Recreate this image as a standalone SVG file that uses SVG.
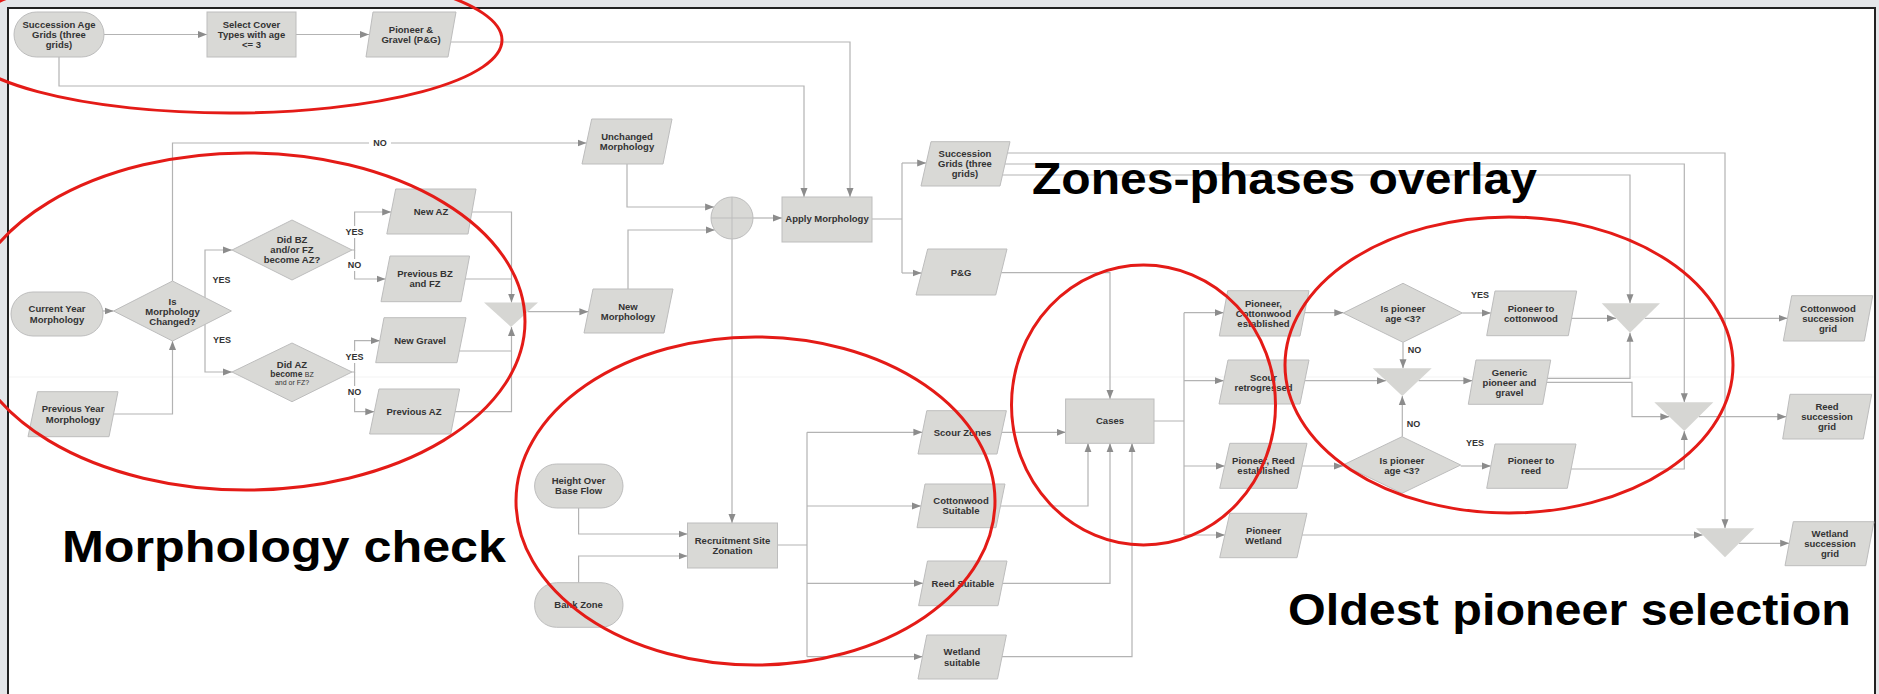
<svg xmlns="http://www.w3.org/2000/svg" width="1879" height="694" viewBox="0 0 1879 694">
<style>
.n{fill:#d9d9d6;stroke:#bdbdbd;stroke-width:1}
.m{fill:#d6d6d3;stroke:none}
.t{font-family:"Liberation Sans",Arial,sans-serif;font-weight:bold;font-size:9.5px;fill:#333;text-anchor:middle}
.s{font-family:"Liberation Sans",Arial,sans-serif;font-weight:normal;font-size:7.5px;fill:#333;text-anchor:middle}
.c{fill:none;stroke:#b3b3b3;stroke-width:1.2}
.l{font-family:"Liberation Sans",Arial,sans-serif;font-weight:bold;font-size:9px;fill:#333;text-anchor:middle}
.bg{fill:#fff}
.big{font-family:"Liberation Sans",Arial,sans-serif;font-weight:bold;font-size:45px;fill:#000}
.red{fill:none;stroke:#e41b17;stroke-width:3}
</style>
<defs>
<marker id="ah" markerUnits="userSpaceOnUse" markerWidth="10" markerHeight="8" refX="9" refY="4" orient="auto"><path d="M0,0.5 L9,4 L0,7.5 z" fill="#8c8c8c"/></marker>
</defs>
<rect x="0" y="0" width="1879" height="694" fill="#e4e6e9"/>
<rect x="8" y="8" width="1867" height="700" fill="#fff" stroke="#222" stroke-width="2"/>
<line x1="9" y1="377" x2="1874" y2="377" stroke="#f3f3f3" stroke-width="1"/>

<g id="connectors">
<path class="c" marker-end="url(#ah)" d="M104,34.5 H207"/>
<path class="c" marker-end="url(#ah)" d="M296,34.5 H369"/>
<path class="c" marker-end="url(#ah)" d="M59,57 V86 H804 V197"/>
<path class="c" marker-end="url(#ah)" d="M451,42 H850 V197"/>
<path class="c" marker-end="url(#ah)" d="M103,311 H113.5"/>
<path class="c" marker-end="url(#ah)" d="M172.5,281 V143 H586.5"/>
<path class="c" marker-end="url(#ah)" d="M205,297.7 V250 H232"/>
<path class="c" marker-end="url(#ah)" d="M205,324.3 V372 H232"/>
<path class="c" marker-end="url(#ah)" d="M113.5,414 H172.5 V341"/>
<path class="c" marker-end="url(#ah)" d="M352,250 H354.6 V212 H391.2"/>
<path class="c" marker-end="url(#ah)" d="M354.6,250 V279 H385.5"/>
<path class="c" marker-end="url(#ah)" d="M352,372 H354.6 V340.7 H379.8"/>
<path class="c" marker-end="url(#ah)" d="M354.6,372 V411.7 H374.3"/>
<path class="c" marker-end="url(#ah)" d="M471.9,212 H511.5 V302.5"/>
<path class="c" d="M465.3,279 H511.5"/>
<path class="c" marker-end="url(#ah)" d="M459.3,351 H511.5 V327"/>
<path class="c" d="M455,411.7 H511.5 V351"/>
<path class="c" marker-end="url(#ah)" d="M528,311.7 H588.4"/>
<path class="c" marker-end="url(#ah)" d="M628,289 V230 H714.8"/>
<path class="c" marker-end="url(#ah)" d="M627,164 V207 H714.1"/>
<path class="c" marker-end="url(#ah)" d="M753,218 H782"/>
<path class="c" marker-end="url(#ah)" d="M732,239 V523"/>
<path class="c" d="M872,219 H902 M902,163 V273"/>
<path class="c" marker-end="url(#ah)" d="M902,163 H926.2"/>
<path class="c" marker-end="url(#ah)" d="M902,273 H921.6"/>
<path class="c" marker-end="url(#ah)" d="M1007.4,153 H1725 V528.3"/>
<path class="c" marker-end="url(#ah)" d="M1005,164 H1684.3 V402.3"/>
<path class="c" marker-end="url(#ah)" d="M1002.5,175 H1630 V303.3"/>
<path class="c" marker-end="url(#ah)" d="M1001.2,272.7 H1110 V399"/>
<path class="c" marker-end="url(#ah)" d="M578.6,508 V534 H687.5"/>
<path class="c" marker-end="url(#ah)" d="M578.6,582.7 V556 H687.5"/>
<path class="c" d="M777.5,545 H807 M807,432.3 V656.7"/>
<path class="c" marker-end="url(#ah)" d="M807,432.3 H922.4"/>
<path class="c" marker-end="url(#ah)" d="M807,506 H921"/>
<path class="c" marker-end="url(#ah)" d="M807,583.3 H923"/>
<path class="c" marker-end="url(#ah)" d="M807,656.7 H922.5"/>
<path class="c" marker-end="url(#ah)" d="M1001.7,432.3 H1065.6"/>
<path class="c" marker-end="url(#ah)" d="M1000.5,506 H1088 V443.3"/>
<path class="c" marker-end="url(#ah)" d="M1002.5,583.3 H1110 V443.3"/>
<path class="c" marker-end="url(#ah)" d="M1001.8,656.7 H1132 V443.3"/>
<path class="c" d="M1154,421 H1184 M1184,312.7 V535"/>
<path class="c" marker-end="url(#ah)" d="M1184,312.7 H1223.6"/>
<path class="c" marker-end="url(#ah)" d="M1184,380.7 H1223.8"/>
<path class="c" marker-end="url(#ah)" d="M1184,466 H1224.7"/>
<path class="c" marker-end="url(#ah)" d="M1184,535 H1224.9"/>
<path class="c" marker-end="url(#ah)" d="M1304.6,312.7 H1343.3"/>
<path class="c" marker-end="url(#ah)" d="M1462.3,313 H1490.9"/>
<path class="c" marker-end="url(#ah)" d="M1403,342.3 V368.3"/>
<path class="c" marker-end="url(#ah)" d="M1304.8,380.7 H1386"/>
<path class="c" marker-end="url(#ah)" d="M1418.5,380.7 H1472.4"/>
<path class="c" marker-end="url(#ah)" d="M1402.3,436.7 V396"/>
<path class="c" marker-end="url(#ah)" d="M1302,466 H1343"/>
<path class="c" marker-end="url(#ah)" d="M1460.7,466 H1490.9"/>
<path class="c" marker-end="url(#ah)" d="M1571.6,318.3 H1616"/>
<path class="c" marker-end="url(#ah)" d="M1644.7,318.3 H1787.5"/>
<path class="c" marker-end="url(#ah)" d="M1547.4,378.3 H1630 V332.7"/>
<path class="c" marker-end="url(#ah)" d="M1546.8,382.3 H1632 V416.7 H1669.4"/>
<path class="c" marker-end="url(#ah)" d="M1698.7,416.7 H1786.3"/>
<path class="c" marker-end="url(#ah)" d="M1571,469 H1684.3 V431"/>
<path class="c" marker-end="url(#ah)" d="M1302,535 H1702.7"/>
<path class="c" marker-end="url(#ah)" d="M1739.1,543.3 H1789.2"/>
<g id="labels">
<rect class="bg" x="369" y="137" width="22" height="12"/>
<text class="l" x="380" y="146.3">NO</text>
<text class="l" x="221.5" y="283.3">YES</text>
<text class="l" x="222" y="343.3">YES</text>
<rect class="bg" x="344" y="226" width="21" height="12"/>
<text class="l" x="354.6" y="235">YES</text>
<rect class="bg" x="346" y="259" width="17" height="12"/>
<text class="l" x="354.6" y="268.3">NO</text>
<rect class="bg" x="344" y="351" width="21" height="12"/>
<text class="l" x="354.6" y="360.3">YES</text>
<rect class="bg" x="346" y="386" width="17" height="12"/>
<text class="l" x="354.6" y="395">NO</text>
<text class="l" x="1480" y="298.3">YES</text>
<text class="l" x="1414.5" y="353.3">NO</text>
<text class="l" x="1413.5" y="426.6">NO</text>
<text class="l" x="1475" y="446">YES</text>
</g>
</g>

<g id="n_sag"><rect class="n" x="14" y="12" width="90" height="45" rx="22.5"/><text class="t" x="59" y="28.3">Succession Age</text><text class="t" x="59" y="38.3">Grids (three</text><text class="t" x="59" y="48.3">grids)</text></g>
<g id="n_select"><rect class="n" x="207" y="12" width="89" height="45"/><text class="t" x="251.5" y="28.3">Select Cover</text><text class="t" x="251.5" y="38.3">Types with age</text><text class="t" x="251.5" y="48.3">&lt;= 3</text></g>
<g id="n_pg1"><polygon class="n" points="373,12 456,12 448,57 366,57"/><text class="t" x="411" y="33.3">Pioneer &amp;</text><text class="t" x="411" y="43.3">Gravel (P&amp;G)</text></g>

<g id="n_cym"><rect class="n" x="11" y="292" width="92" height="44" rx="22"/><text class="t" x="57" y="312.3">Current Year</text><text class="t" x="57" y="322.6">Morphology</text></g>
<g id="n_ismc"><polygon class="n" points="113.6,311 172.5,281 231.4,311 172.5,341"/><text class="t" x="172.5" y="305.3">Is</text><text class="t" x="172.5" y="315">Morphology</text><text class="t" x="172.5" y="324.6">Changed?</text></g>
<g id="n_pym"><polygon class="n" points="37.5,391.7 118,391.7 109,436.7 28,436.7"/><text class="t" x="73" y="412.3">Previous Year</text><text class="t" x="73" y="422.6">Morphology</text></g>
<g id="n_didbz"><polygon class="n" points="232,250 292,220 352,250 292,280"/><text class="t" x="292" y="243.3">Did BZ</text><text class="t" x="292" y="253.3">and/or FZ</text><text class="t" x="292" y="263.3">become AZ?</text></g>
<g id="n_didaz"><polygon class="n" points="232,372 292,343 352,372 292,401.7"/><text class="t" x="292" y="368.3">Did AZ</text><text class="t" x="292" y="377.3" style="font-size:8.5px">become <tspan class="s" style="font-size:7px">BZ</tspan></text><text class="s" x="292" y="384.5" style="font-size:7px">and or FZ?</text></g>
<g id="n_newaz"><polygon class="n" points="395.7,189 476,189 468,234 386.8,234"/><text class="t" x="431" y="215.3">New AZ</text></g>
<g id="n_prevbz"><polygon class="n" points="390,256 469.6,256 461,301.7 381,301.7"/><text class="t" x="425" y="277.3">Previous BZ</text><text class="t" x="425" y="287.3">and FZ</text></g>
<g id="n_newgravel"><polygon class="n" points="384,317.7 466,317.7 457,362.7 375.7,362.7"/><text class="t" x="420" y="344">New Gravel</text></g>
<g id="n_prevaz"><polygon class="n" points="379,389 459.6,389 450.7,434 369.6,434"/><text class="t" x="414" y="415">Previous AZ</text></g>
<g id="n_merge1"><polygon class="m" points="484,302.5 538,302.5 511,327"/></g>
<g id="n_unchanged"><polygon class="n" points="591.7,119 672,119 663,164 582,164"/><text class="t" x="627" y="140.3">Unchanged</text><text class="t" x="627" y="150.3">Morphology</text></g>
<g id="n_newmorph"><polygon class="n" points="593,289 673,289 664,333 584,333"/><text class="t" x="628" y="310">New</text><text class="t" x="628" y="320">Morphology</text></g>
<g id="n_sum"><circle class="n" cx="732" cy="218" r="21"/><path d="M711,218 H753 M732,197 V239" stroke="#bdbdbd" stroke-width="1"/></g>
<g id="n_apply"><rect class="n" x="782" y="197" width="90" height="45"/><text class="t" x="827" y="222.3">Apply Morphology</text></g>
<g id="n_sg2"><polygon class="n" points="931,141.7 1010,141.7 1000,186 921,186"/><text class="t" x="965" y="157.3">Succession</text><text class="t" x="965" y="167.3">Grids (three</text><text class="t" x="965" y="177.3">grids)</text></g>
<g id="n_pg2"><polygon class="n" points="927.7,249 1007,249 995.7,295 916,295"/><text class="t" x="961" y="276">P&amp;G</text></g>

<g id="n_hobf"><rect class="n" x="534.6" y="464" width="88.4" height="44" rx="22"/><text class="t" x="578.6" y="484.3">Height Over</text><text class="t" x="578.6" y="494.3">Base Flow</text></g>
<g id="n_bank"><rect class="n" x="534.6" y="582.7" width="88.4" height="44.6" rx="22"/><text class="t" x="578.6" y="608.3">Bank Zone</text></g>
<g id="n_rsz"><rect class="n" x="687.5" y="523" width="90" height="45"/><text class="t" x="732.5" y="544">Recruitment Site</text><text class="t" x="732.5" y="554">Zonation</text></g>
<g id="n_scour"><polygon class="n" points="926.8,410.7 1006.4,410.7 997,454 918,454"/><text class="t" x="962.5" y="436">Scour Zones</text></g>
<g id="n_cwsuit"><polygon class="n" points="925,484 1005,484 996,527.7 917,527.7"/><text class="t" x="961" y="504">Cottonwood</text><text class="t" x="961" y="514.3">Suitable</text></g>
<g id="n_reedsuit"><polygon class="n" points="927.5,561 1007,561 998,605.7 918.6,605.7"/><text class="t" x="963" y="586.6">Reed Suitable</text></g>
<g id="n_wetsuit"><polygon class="n" points="926.8,635 1006.4,635 997.5,679 918,679"/><text class="t" x="962" y="655.3">Wetland</text><text class="t" x="962" y="665.6">suitable</text></g>
<g id="n_cases"><rect class="n" x="1065.6" y="399" width="88.4" height="44.3"/><text class="t" x="1110" y="424.3">Cases</text></g>

<g id="n_pce"><polygon class="n" points="1227.7,290.7 1309,290.7 1300,336 1219.3,336"/><text class="t" x="1263.5" y="306.6">Pioneer,</text><text class="t" x="1263.5" y="316.6">Cottonwood</text><text class="t" x="1263.5" y="326.6">established</text></g>
<g id="n_scourret"><polygon class="n" points="1228,360 1309,360 1300,404 1219,404"/><text class="t" x="1263.5" y="380.6">Scour</text><text class="t" x="1263.5" y="390.6">retrogressed</text></g>
<g id="n_pre"><polygon class="n" points="1229.8,443.3 1307,443.3 1297,488.3 1219.7,488.3"/><text class="t" x="1263.5" y="464.3">Pioneer, Reed</text><text class="t" x="1263.5" y="474.3">established</text></g>
<g id="n_pwet"><polygon class="n" points="1229.8,513.3 1307,513.3 1297,557.7 1219.7,557.7"/><text class="t" x="1263.5" y="534">Pioneer</text><text class="t" x="1263.5" y="544">Wetland</text></g>
<g id="n_age1"><polygon class="n" points="1343.3,313 1403,283.3 1462.3,313 1403,342.3"/><text class="t" x="1403" y="311.6">Is pioneer</text><text class="t" x="1403" y="321.6">age &lt;3?</text></g>
<g id="n_merge2"><polygon class="m" points="1372.7,368.3 1431.7,368.3 1402.3,396"/></g>
<g id="n_age2"><polygon class="n" points="1343,465 1402,436.7 1460.7,465 1402,493.3"/><text class="t" x="1402" y="464.3">Is pioneer</text><text class="t" x="1402" y="474.3">age &lt;3?</text></g>
<g id="n_p2c"><polygon class="n" points="1495,291 1576.7,291 1568.3,335.7 1486.7,335.7"/><text class="t" x="1531" y="311.6">Pioneer to</text><text class="t" x="1531" y="321.6">cottonwood</text></g>
<g id="n_generic"><polygon class="n" points="1476,360 1550.7,360 1542.7,404.3 1468.3,404.3"/><text class="t" x="1509.5" y="375.6">Generic</text><text class="t" x="1509.5" y="385.6">pioneer and</text><text class="t" x="1509.5" y="395.6">gravel</text></g>
<g id="n_p2r"><polygon class="n" points="1495,444 1576,444 1567.3,488.3 1486.7,488.3"/><text class="t" x="1531" y="464.3">Pioneer to</text><text class="t" x="1531" y="474.3">reed</text></g>
<g id="n_merge_cw"><polygon class="m" points="1601.7,303.3 1660,303.3 1630,332.7"/></g>
<g id="n_merge_reed"><polygon class="m" points="1654.3,402.3 1713.3,402.3 1684.3,431"/></g>
<g id="n_merge_wet"><polygon class="m" points="1696,528.3 1754.3,528.3 1725,557.3"/></g>
<g id="n_cwgrid"><polygon class="n" points="1791.7,295.7 1872.7,295.7 1864.3,341 1783.3,341"/><text class="t" x="1828" y="311.6">Cottonwood</text><text class="t" x="1828" y="321.6">succession</text><text class="t" x="1828" y="331.6">grid</text></g>
<g id="n_reedgrid"><polygon class="n" points="1790,394.3 1871.7,394.3 1863.3,439 1782.7,439"/><text class="t" x="1827" y="410">Reed</text><text class="t" x="1827" y="420">succession</text><text class="t" x="1827" y="430">grid</text></g>
<g id="n_wetgrid"><polygon class="n" points="1793.3,521.7 1874,521.7 1865.7,565.7 1785,565.7"/><text class="t" x="1830" y="536.6">Wetland</text><text class="t" x="1830" y="546.6">succession</text><text class="t" x="1830" y="556.6">grid</text></g>

<g id="annotations">
<text class="big" x="1032" y="193.5" textLength="505" lengthAdjust="spacingAndGlyphs">Zones-phases overlay</text>
<text class="big" x="62" y="562" textLength="444" lengthAdjust="spacingAndGlyphs">Morphology check</text>
<text class="big" x="1288" y="625" textLength="563" lengthAdjust="spacingAndGlyphs">Oldest pioneer selection</text>
<ellipse class="red" cx="230" cy="40" rx="272" ry="73"/>
<ellipse class="red" cx="246" cy="321.5" rx="279" ry="168.5"/>
<ellipse class="red" cx="755.5" cy="501" rx="239.5" ry="164"/>
<ellipse class="red" cx="1143.5" cy="405" rx="132" ry="140"/>
<ellipse class="red" cx="1509" cy="365" rx="224" ry="148"/>
</g>
</svg>
